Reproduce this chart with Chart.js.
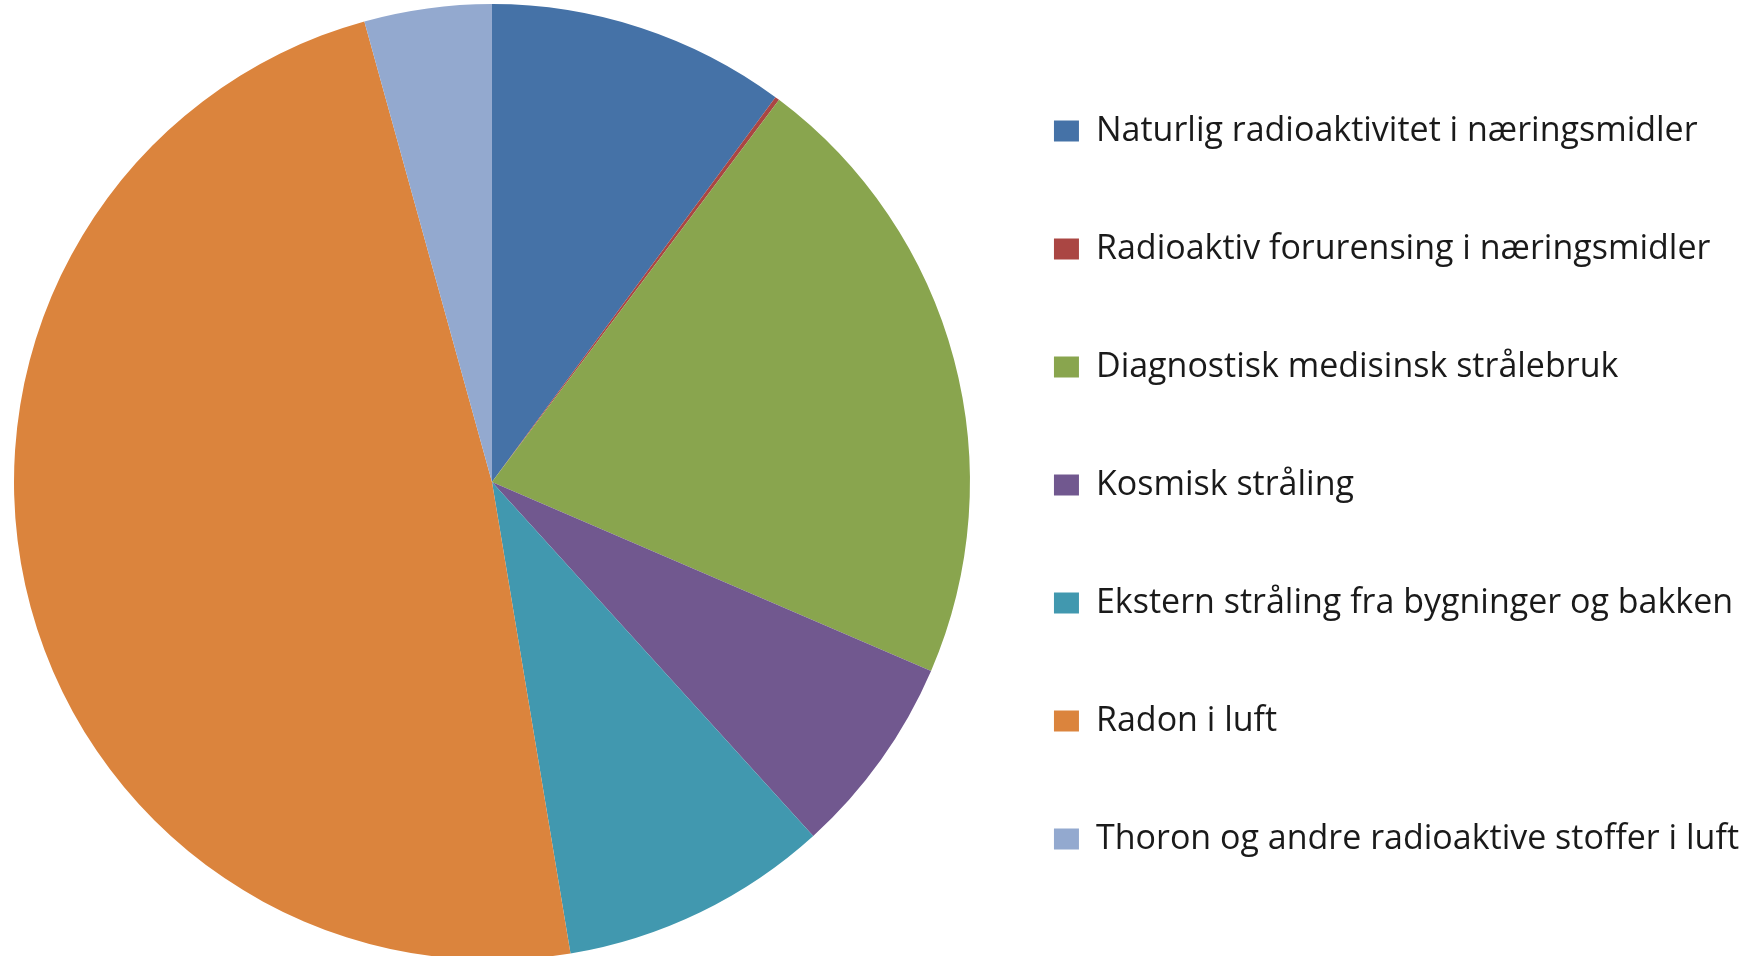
<!DOCTYPE html>
<html>
<head>
<meta charset="utf-8">
<title>Stråledoser</title>
<script src="https://cdn.jsdelivr.net/npm/chart.js@4/dist/chart.umd.min.js"></script>
<style>
  html, body { margin: 0; padding: 0; background: #fff; overflow: hidden; }
  #wrap { width: 1749px; height: 962px; }
</style>
</head>
<body>
<div id="wrap"><canvas id="chart-dose" width="1749" height="962"></canvas></div>
<script>
  // Data - Start
  // --------------------------------------------------
  var sources = [
    "Naturlig radioaktivitet i næringsmidler",
    "Radioaktiv forurensing i næringsmidler",
    "Diagnostisk medisinsk strålebruk",
    "Kosmisk stråling",
    "Ekstern stråling fra bygninger og bakken",
    "Radon i luft",
    "Thoron og andre radioaktive stoffer i luft"
  ];
  var shares = [10.1, 0.15, 21.2, 6.8, 9.1, 48.3, 4.3];
  var colors = ["#4572A7", "#AA4643", "#89A54E", "#71588F", "#4198AF", "#DB843D", "#93A9CF"];
  // Data - End
  // --------------------------------------------------

  var ctxDose = document.getElementById('chart-dose').getContext('2d');
  var doseChart = new Chart(ctxDose, {
    type: 'pie',
    data: {
      labels: sources,
      datasets: [
      {
        data: shares,
        backgroundColor: colors,
        borderWidth: 0
      }
      ]
    },
    options: {
      responsive: false,
      animation: false,
      devicePixelRatio: 1,
      layout: {
        padding: { top: 4, bottom: 2, left: 14, right: 0 }
      },
      plugins: {
        tooltip: { enabled: false },
        legend: {
          position: 'right',
          align: 'center',
          // empty title only nudges the items down a little
          title: {
            display: true,
            text: '',
            padding: 2,
            font: { size: 2, lineHeight: 1 }
          },
          labels: {
            boxWidth: 25,
            boxHeight: 21,
            padding: 84,
            color: "#1a1a1a",
            font: { family: "'Open Sans', sans-serif", size: 34 }
          }
        }
      }
    }
  });
</script>
</body>
</html>
